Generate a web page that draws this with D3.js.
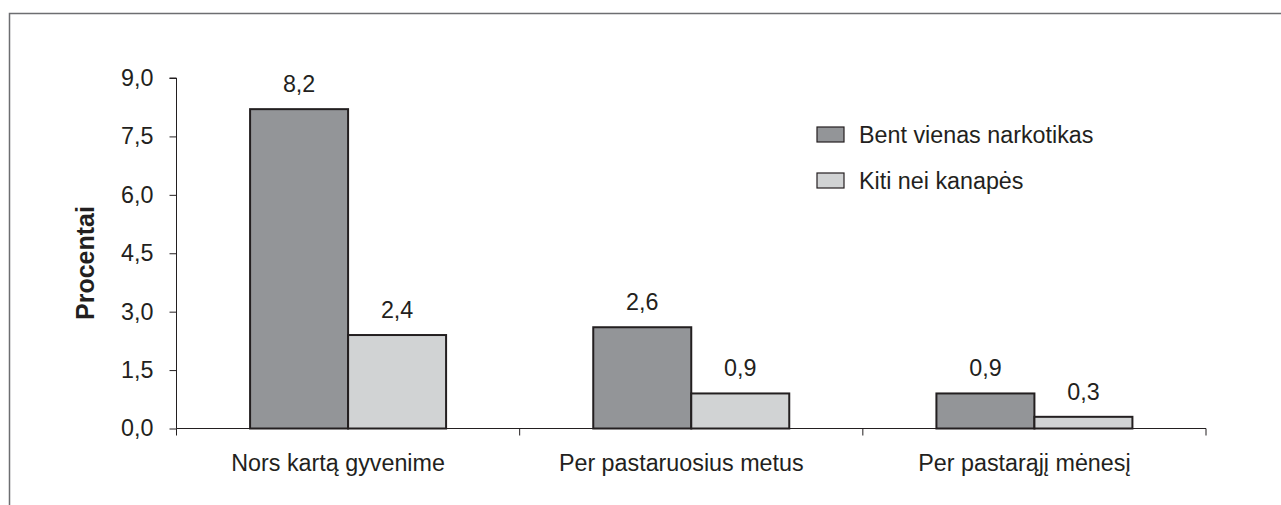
<!DOCTYPE html>
<html>
<head>
<meta charset="utf-8">
<script src="https://cdn.jsdelivr.net/npm/d3@7"></script>
<style>
  body { margin: 0; background: #fff; }
  svg { display: block; font-family: "Liberation Sans", Arial, sans-serif; }
</style>
</head>
<body>
<svg id="chart"></svg>
<script>
const categories = ["Nors kartą gyvenime", "Per pastaruosius metus", "Per pastarąjį mėnesį"];
const seriesNames = ["Bent vienas narkotikas", "Kiti nei kanapės"];
const anyDrug = [8.2, 2.6, 0.9];
const nonCannabis = [2.4, 0.9, 0.3];
const yTicks = [0, 1.5, 3.0, 4.5, 6.0, 7.5, 9.0];
const colors = ["#939598", "#d1d3d4"];

const width = 1281, height = 505;
const fs = 23.3;
const svg = d3.select("#chart").attr("width", width).attr("height", height);

// frame round the chart (top and left edges only are visible)
svg.append("path").attr("d", "M9.5,505 V13.5 H1281")
  .attr("fill", "none").attr("stroke", "#6d6e71").attr("stroke-width", 1.5);

const plot = {left: 176.5, right: 1206, top: 78, bottom: 428.5};
const x = d3.scaleBand().domain(categories).range([plot.left, plot.right]);
const y = d3.scaleLinear().domain([0, 9]).range([plot.bottom, plot.top]);
const barW = 98;

const fmt = v => d3.format(".1f")(v).replace(".", ",");

// y axis
const gy = svg.append("g").attr("transform", `translate(${plot.left},0)`)
  .call(d3.axisLeft(y).tickValues(yTicks).tickSize(7).tickPadding(16).tickFormat(fmt));
gy.select(".domain").attr("d", `M-7,${y(9)}H0V${y(0)}`);
gy.selectAll("line, .domain").attr("stroke", "#231f20");
gy.selectAll("text").attr("font-size", fs).attr("fill", "#231f20").attr("font-family", null);

// x axis
const gx = svg.append("g").attr("transform", `translate(0,${plot.bottom})`)
  .call(d3.axisBottom(x).tickSize(0).tickPadding(26));
gx.select(".domain").attr("d", `M${plot.left},0H${plot.right}`).attr("stroke", "#231f20");
gx.selectAll("text").attr("font-size", fs).attr("fill", "#231f20").attr("font-family", null)
  .attr("dx", -10);
const bounds = [plot.left, ...categories.map(c => x(c) + x.bandwidth())];
gx.selectAll("line.sep").data(bounds).enter().append("line").attr("class", "sep")
  .attr("x1", d => d).attr("x2", d => d).attr("y1", 0).attr("y2", 7).attr("stroke", "#231f20");

// bars
const series = [anyDrug, nonCannabis];
series.forEach((vals, si) => {
  const g = svg.append("g");
  const bx = (d, i) => x(categories[i]) + x.bandwidth() / 2 - barW + si * barW;
  g.selectAll("rect").data(vals).enter().append("rect")
    .attr("x", bx).attr("y", d => y(d)).attr("width", barW).attr("height", d => y(0) - y(d))
    .attr("fill", colors[si]).attr("stroke", "#231f20").attr("stroke-width", 2);
  g.selectAll("text").data(vals).enter().append("text")
    .attr("x", (d, i) => bx(d, i) + barW / 2).attr("y", d => y(d) - 17)
    .attr("text-anchor", "middle").attr("font-size", fs).attr("fill", "#231f20")
    .text(fmt);
});

// y title
svg.append("text").attr("transform", "translate(94,263) rotate(-90)")
  .attr("text-anchor", "middle").attr("font-size", 25).attr("font-weight", "bold")
  .attr("fill", "#231f20").text("Procentai");

// legend
const leg = svg.append("g").attr("transform", "translate(817,127)");
seriesNames.forEach((name, i) => {
  leg.append("rect").attr("x", 0).attr("y", i * 46).attr("width", 27).attr("height", 15)
    .attr("fill", colors[i]).attr("stroke", "#231f20").attr("stroke-width", 1.2);
  leg.append("text").attr("x", 42).attr("y", i * 46 + 16).attr("font-size", fs)
    .attr("fill", "#231f20").text(name);
});
</script>
</body>
</html>
